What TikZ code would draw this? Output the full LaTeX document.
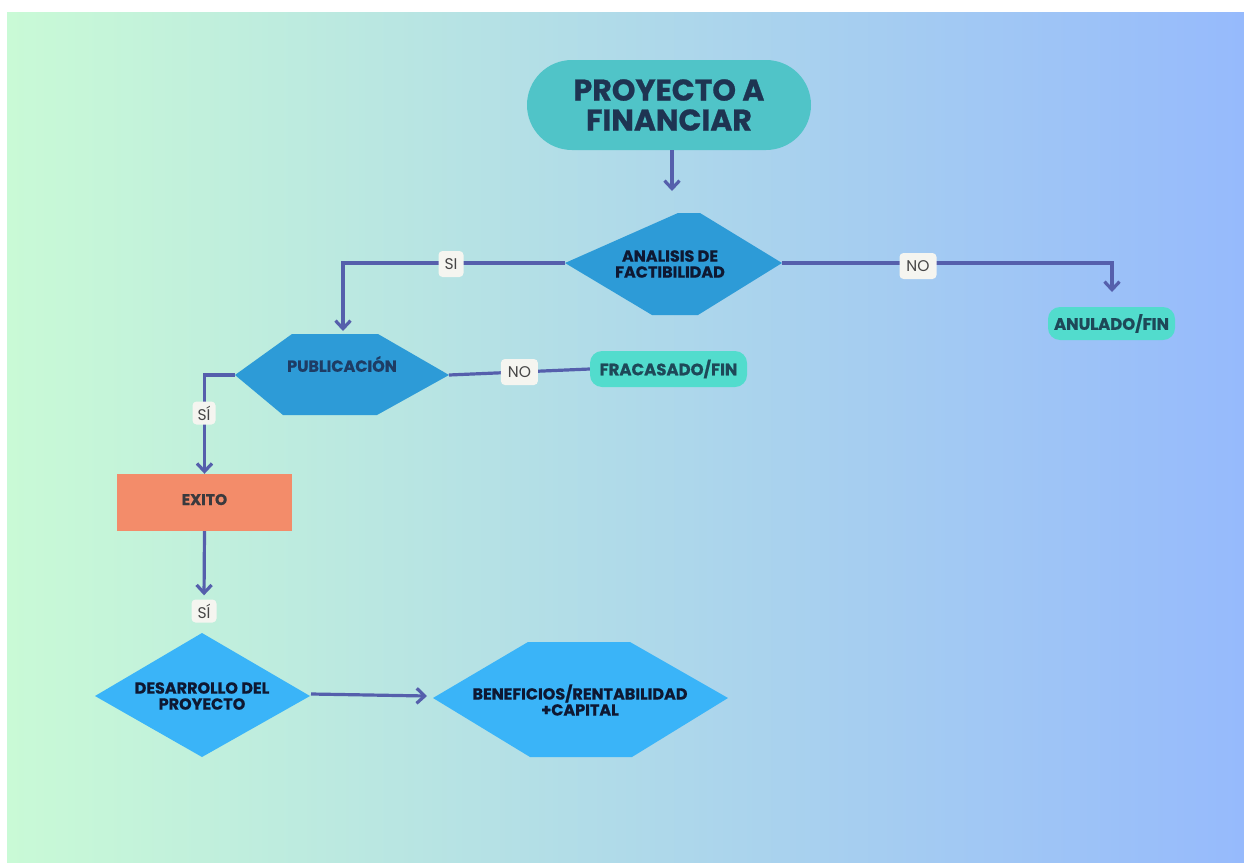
\documentclass[tikz,border=0pt]{standalone}
\usepackage{fontspec}
\setmainfont{Poppins}[BoldFeatures={FakeBold=0.8}]
\usetikzlibrary{arrows.meta}
\definecolor{bgL}{RGB}{201,250,214}
\definecolor{bgM}{RGB}{182,225,232}
\definecolor{bgR}{RGB}{150,186,252}
\definecolor{arrowc}{RGB}{85,95,172}
\definecolor{hexA}{RGB}{45,155,215}
\definecolor{hexB}{RGB}{58,180,248}
\definecolor{pillT}{RGB}{80,196,200}
\definecolor{pillE}{RGB}{82,220,205}
\definecolor{salmon}{RGB}{243,140,106}
\definecolor{navy}{RGB}{30,52,82}
\definecolor{ink}{RGB}{14,24,50}
\definecolor{pubink}{RGB}{30,60,100}
\definecolor{tealink}{RGB}{30,72,88}
\definecolor{exink}{RGB}{58,58,62}
\definecolor{lblfill}{RGB}{245,245,240}
\definecolor{lblink}{RGB}{70,70,70}
\begin{document}
\begin{tikzpicture}[x=1pt,y=-1pt,
  arr/.style={draw=arrowc, line width=3.2pt, -{Straight Barb[length=8pt,width=15pt]}},
  conn/.style={draw=arrowc, line width=3.2pt},
  lbl/.style={fill=lblfill, rounded corners=4pt, text=lblink, font=\fontsize{15.5}{15.5}\selectfont, inner sep=0pt, minimum height=26pt},
  txt/.style={align=center, inner sep=0pt, font=\bfseries\fontsize{16}{16}\selectfont},
  pillend/.style={fill=pillE, rounded corners=12pt, text=tealink, inner sep=0pt, font=\bfseries\fontsize{16.5}{16.5}\selectfont}]
\useasboundingbox (0,0) rectangle (1244,862);
\fill[white] (0,0) rectangle (1244,862);
\shade[left color=bgL, middle color=bgM, right color=bgR] (7,12) rectangle (1244,862);

% title
\node[fill=pillT, rounded corners=45pt, minimum width=284pt, minimum height=90pt, inner sep=0pt,
      text=navy, align=center, font=\bfseries\fontsize{30}{30}\selectfont] (title) at (669,105) {PROYECTO A\\FINANCIAR};

% analisis
\fill[hexA] (565,263) -- (678,213) -- (700,213) -- (782,263) -- (698,315) -- (652,315) -- cycle;
\node[txt, text=ink] (ana) at (670,264) {ANALISIS DE\\FACTIBILIDAD};
\coordinate (anaL) at (565,263);
\coordinate (anaR) at (782,263);
\coordinate (anaIn) at (672,191);
\draw[arr] (title.south -| anaIn) -- (anaIn);

% publicacion
\fill[hexA] (235,375) -- (292,334) -- (378,334) -- (449,375) -- (377,415) -- (283,415) -- cycle;
\node[txt, text=pubink] (pub) at (342,364) {PUBLICACIÓN};
\coordinate (pubL) at (235,375);
\coordinate (pubR) at (449,375);
\coordinate (pubIn) at (343,331);

% anulado
\node[pillend, minimum width=127pt, minimum height=33pt] (anu) at (1111.5,323.5) {ANULADO/FIN};
\coordinate (anuIn) at (1112,292);

% fracasado
\node[pillend, minimum width=157pt, minimum height=36pt] (frac) at (668.5,369) {FRACASADO/FIN};

% exito
\node[fill=salmon, minimum width=175pt, minimum height=57pt, inner sep=0pt, text=exink,
      font=\bfseries\fontsize{15.5}{15.5}\selectfont] (exito) at (204.5,502.5) {\raisebox{6pt}{EXITO}};

% desarrollo
\fill[hexB] (202,633) -- (310,696) -- (202,757) -- (95,696) -- cycle;
\node[txt, text=ink] (des) at (202,696) {DESARROLLO DEL\\PROYECTO};
\coordinate (desR) at (311,694);

% beneficios
\fill[hexB] (433,698) -- (528,642) -- (630,642) -- (728,698) -- (632,757) -- (530,757) -- cycle;
\node[txt, text=ink] (ben) at (580,700) {BENEFICIOS/RENTABILIDAD\\+CAPITAL};
\coordinate (benL) at (427,696);

% connectors
\draw[arr] (anaL) -- (anaL -| pubIn) -- (pubIn);
\node[lbl, minimum width=25pt] (si1) at (451,264) {SI};

\draw[arr] (anaR) -- (anaR -| anuIn) -- (anuIn);
\node[lbl, minimum width=37pt] (no1) at (918,266) {NO};

\draw[conn] (pubR) -- node[lbl, minimum width=37pt] (no2) {NO} (frac.west);

\draw[arr] (pubL) -- (pubL -| exito.north) -- (exito.north);
\node[lbl, minimum width=23pt, minimum height=23pt] (si2) at (204,413) {SÍ};

\node[lbl, minimum width=25pt, minimum height=23pt] (si3) at (204,611) {SÍ};
\draw[arr, shorten >=4pt] (exito.south) -- (si3.north);

\draw[arr] (desR) -- (benL);
\end{tikzpicture}
\end{document}
